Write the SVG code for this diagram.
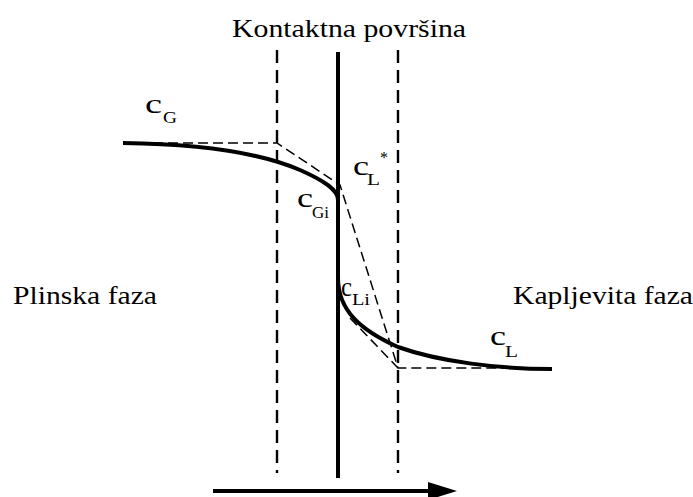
<svg xmlns="http://www.w3.org/2000/svg" width="693" height="497" viewBox="0 0 693 497">
<style>
text{font-family:"Liberation Serif","Times New Roman",serif;fill:#000}
.lbl{font-size:26px}
.c{font-size:27px}
.sub{font-size:16px}
.thick{fill:none;stroke:#000;stroke-width:4}
.dv{fill:none;stroke:#000;stroke-width:2.4;stroke-dasharray:13 7}
.dd{fill:none;stroke:#000;stroke-width:1.5;stroke-dasharray:10 5}
</style>
<rect width="693" height="497" fill="#fff"/>
<g id="labels">
<text class="lbl" x="232" y="37" textLength="234" lengthAdjust="spacingAndGlyphs">Kontaktna površina</text>
<text class="lbl" x="13" y="304" textLength="144" lengthAdjust="spacingAndGlyphs">Plinska faza</text>
<text class="lbl" x="513" y="304" textLength="180" lengthAdjust="spacingAndGlyphs">Kapljevita faza</text>
</g>
<g id="connectors">
<line class="dv" x1="277" y1="50" x2="277" y2="473"/>
<line class="dv" x1="398" y1="50" x2="398" y2="473"/>
<line class="thick" x1="338" y1="52" x2="338" y2="478"/>
<polyline class="dd" points="123,143 277,143 340,185 398,368 550,368"/>
<line class="dd" x1="350" y1="318" x2="398" y2="368"/>
<path class="thick" d="M123,143 C210,144 265,155 300,170 C325,181 338,190 338,200"/>
<path class="thick" d="M338,278 C338,310 360,330 398,347 C440,362 500,369 552,369"/>
<line x1="213" y1="491" x2="432" y2="491" stroke="#000" stroke-width="4"/>
<polygon points="428,482 457,491 428,500" fill="#000"/>
</g>
<g id="cG"><text class="c" x="145" y="113" textLength="17" lengthAdjust="spacingAndGlyphs">c</text><text class="sub" x="163" y="123" textLength="14" lengthAdjust="spacingAndGlyphs">G</text></g>
<g id="cGi"><text class="c" x="297" y="207" textLength="16" lengthAdjust="spacingAndGlyphs">c</text><text class="sub" x="312" y="218" textLength="17" lengthAdjust="spacingAndGlyphs">Gi</text></g>
<g id="cLstar"><text class="c" x="353" y="175" textLength="16" lengthAdjust="spacingAndGlyphs">c</text><text class="sub" x="367" y="185" textLength="13" lengthAdjust="spacingAndGlyphs">L</text><text class="sub" x="380" y="163">*</text></g>
<g id="cLi"><text class="c" x="341" y="296" textLength="11" lengthAdjust="spacingAndGlyphs">c</text><text class="sub" x="352" y="305" textLength="18" lengthAdjust="spacingAndGlyphs">Li</text></g>
<g id="cL"><text class="c" x="490" y="345" textLength="16" lengthAdjust="spacingAndGlyphs">c</text><text class="sub" x="505" y="357" textLength="13" lengthAdjust="spacingAndGlyphs">L</text></g>
</svg>
